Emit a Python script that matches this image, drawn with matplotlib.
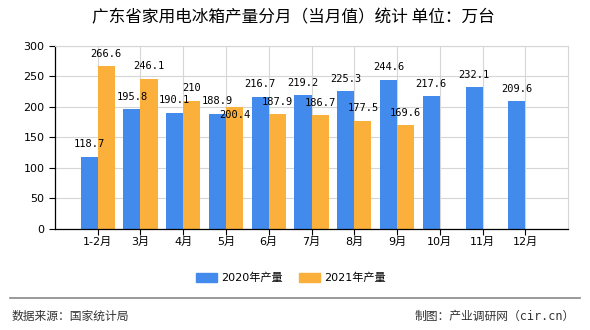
import numpy as np
import matplotlib
matplotlib.use('Agg')
from matplotlib import pyplot as plt
from matplotlib.patches import Patch

plt.rcParams['font.family'] = ['DejaVu Sans', 'Noto Sans CJK SC']

months = ['1-2月', '3月', '4月', '5月', '6月', '7月', '8月', '9月', '10月', '11月', '12月']
prod_2020 = [118.7, 195.8, 190.1, 188.9, 216.7, 219.2, 225.3, 244.6, 217.6, 232.1, 209.6]
prod_2021 = [266.6, 246.1, 210, 200.4, 187.9, 186.7, 177.5, 169.6]

blue = '#428bec'
orange = '#fbb03b'

fig = plt.figure(figsize=(5.9, 3.3), dpi=100)
ax = fig.add_axes([0.093, 0.306, 0.870, 0.555])

x = np.arange(len(months))
w = 0.4
ax.bar(x[:len(prod_2020)] - w / 2, prod_2020, w, color=blue, zorder=2)
ax.bar(x[:len(prod_2021)] + w / 2, prod_2021, w, color=orange, zorder=2)

# label offsets (points) - the 5月 2021 label is pushed under the bar top like the original
lab_font = dict(fontsize=7.5, family=['DejaVu Sans Mono'], ha='center', va='center',
                textcoords='offset points', zorder=3)
for i, v in enumerate(prod_2020):
    ax.annotate(f'{v:g}', (x[i] - w / 2, v), xytext=(0, 9), **lab_font)
for i, v in enumerate(prod_2021):
    dy = -6 if i == 3 else 9
    ax.annotate(f'{v:g}', (x[i] + w / 2, v), xytext=(0, dy), **lab_font)

ax.set_xlim(-1, len(months))
ax.set_ylim(0, 300)
ax.set_yticks(range(0, 301, 50))
ax.set_xticks(x)
ax.set_xticklabels(months, fontsize=8)
ax.tick_params(axis='y', labelsize=8, length=4, width=0.8)
ax.tick_params(axis='x', length=4, width=0.8, pad=2)
ax.grid(True, color='#d6d6d6', lw=0.8, zorder=0)
for s in ['top', 'right']:
    ax.spines[s].set_color('#d6d6d6')
for s in ['left', 'bottom']:
    ax.spines[s].set_color('black')
    ax.spines[s].set_linewidth(0.9)

fig.text(0.498, 0.945, '广东省家用电冰箱产量分月（当月值）统计 单位：万台',
         ha='center', va='center', fontsize=12, family=['Noto Sans CJK SC'])

handles = [Patch(color=blue, label='2020年产量'), Patch(color=orange, label='2021年产量')]
fig.legend(handles=handles, loc='center', bbox_to_anchor=(0.493, 0.158), ncol=2,
           frameon=False, fontsize=8, handlelength=1.9, handleheight=0.9,
           columnspacing=1.4, handletextpad=0.4)

fig.add_artist(plt.Line2D([0.017, 0.983], [0.098, 0.098], color='#888888', lw=1.2,
                          transform=fig.transFigure))
fig.text(0.02, 0.042, '数据来源：国家统计局', ha='left', va='center', fontsize=8.5,
         family=['Noto Sans CJK SC'], color='#333333')
fig.text(0.975, 0.042, '制图：产业调研网（cir.cn）', ha='right', va='center', fontsize=8.5,
         family=['DejaVu Sans Mono', 'Noto Sans CJK SC'], color='#333333')

fig.savefig('out.png', dpi=100)
